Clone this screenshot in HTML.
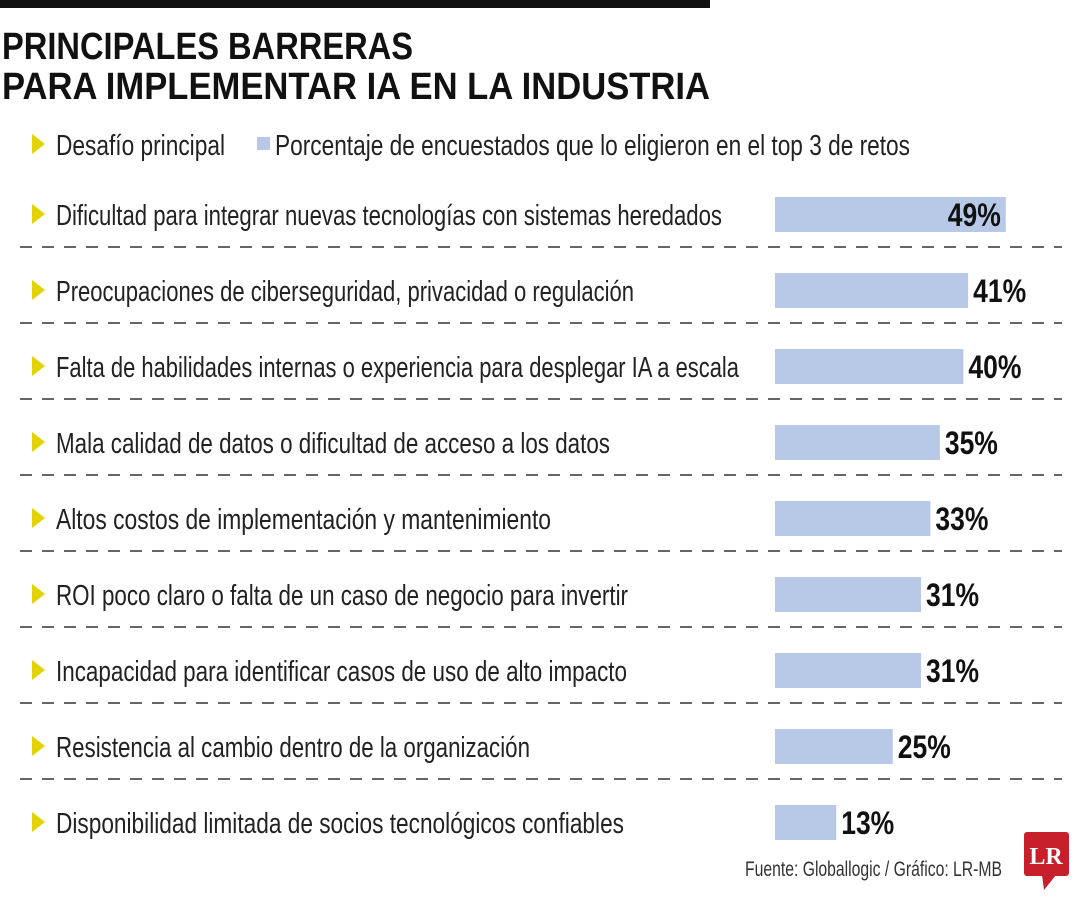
<!DOCTYPE html>
<html><head><meta charset="utf-8"><style>
body{margin:0;background:#fff;width:1080px;height:900px;overflow:hidden}
svg text{font-family:"Liberation Sans",sans-serif}
</style></head><body>
<svg id="c" width="1080" height="900">
<rect x="0" y="0" width="710" height="8" fill="#111"/>
<text x="2" y="59" font-size="38" font-weight="bold" fill="#111" textLength="411" lengthAdjust="spacingAndGlyphs">PRINCIPALES BARRERAS</text>
<text x="2" y="99" font-size="38" font-weight="bold" fill="#111" textLength="708" lengthAdjust="spacingAndGlyphs">PARA IMPLEMENTAR IA EN LA INDUSTRIA</text>
<g>
<polygon points="32,134 32,154 45,144" fill="#e2d200"/>
<text x="56" y="155" font-size="29" fill="#222" textLength="169" lengthAdjust="spacingAndGlyphs">Desafío principal</text>
<rect x="257" y="137" width="13" height="13" fill="#b8c9e8"/>
<text x="275" y="155" font-size="29" fill="#222" textLength="635" lengthAdjust="spacingAndGlyphs">Porcentaje de encuestados que lo eligieron en el top 3 de retos</text>
</g>
<g id="rows"></g>
<text x="745" y="876" font-size="21" fill="#333" textLength="257" lengthAdjust="spacingAndGlyphs">Fuente: Globallogic / Gráfico: LR-MB</text>
<g>
<rect x="1024" y="832" width="45" height="44" rx="3" fill="#c8202a"/>
<polygon points="1042,875 1056,875 1044,890" fill="#c8202a"/>
<text x="1046" y="864" font-size="24" font-weight="bold" fill="#fff" text-anchor="middle" style="font-family:'Liberation Serif',serif">LR</text>
</g>
</svg>
<script>
const categories=["Dificultad para integrar nuevas tecnologías con sistemas heredados","Preocupaciones de ciberseguridad, privacidad o regulación","Falta de habilidades internas o experiencia para desplegar IA a escala","Mala calidad de datos o dificultad de acceso a los datos","Altos costos de implementación y mantenimiento","ROI poco claro o falta de un caso de negocio para invertir","Incapacidad para identificar casos de uso de alto impacto","Resistencia al cambio dentro de la organización","Disponibilidad limitada de socios tecnológicos confiables"];
const values=[49,41,40,35,33,31,31,25,13];
const labelWidths=[666,578,683,554,495,572,571,474,568];
const NS="http://www.w3.org/2000/svg";
const g=document.getElementById('rows');
const x0=775, scale=4.71;
function xs(v){return v*scale;}
function yc(i){return 214+i*76;}
function mk(t,a){const e=document.createElementNS(NS,t);for(const k in a)e.setAttribute(k,a[k]);g.appendChild(e);return e;}
categories.forEach((c,i)=>{
 const y=yc(i);
 const tri=mk('polygon',{points:`32,${y-10} 32,${y+10} 45,${y}`,fill:'#e2d200'});
 
 
 const t=mk('text',{x:56,y:y+11,'font-size':29,fill:'#222',textLength:labelWidths[i],lengthAdjust:'spacingAndGlyphs'});
 t.textContent=c;
 
 
 const w=xs(values[i]);
 const b=mk('rect',{x:x0,y:y-17,width:w,height:35,fill:'#b8c9e8'});
 
 
 const inside=values[i]>=45;
 const v=mk('text',{x:inside?x0+w-5:x0+w+5,y:y+12,'font-size':32,'font-weight':'bold',fill:'#111','text-anchor':inside?'end':'start',textLength:53,lengthAdjust:'spacingAndGlyphs'});
 v.textContent=values[i]+'%';
 
 
 if(i<categories.length-1){
  const l=mk('line',{x1:20,x2:1062,y1:y+33,y2:y+33,stroke:'#333','stroke-width':1.5,'stroke-dasharray':'12,10'});
  
  
 }
});
</script>
</body></html>
